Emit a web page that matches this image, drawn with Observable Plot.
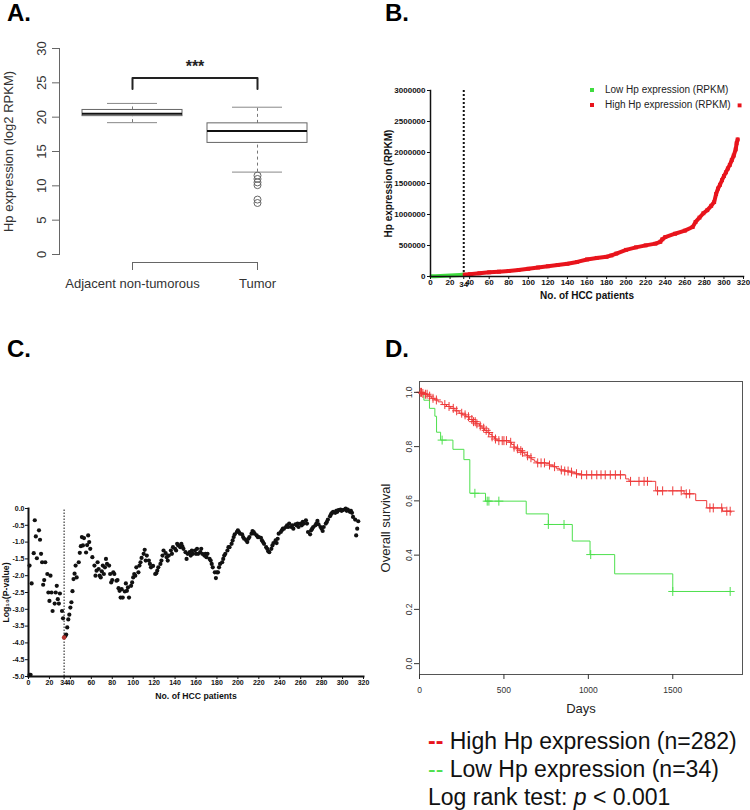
<!DOCTYPE html>
<html><head><meta charset="utf-8">
<script src="https://cdn.jsdelivr.net/npm/d3@7"></script>
<script src="https://cdn.jsdelivr.net/npm/@observablehq/plot@0.6"></script>
<style>
body{margin:0;background:#fff;font-family:"Liberation Sans",Arial,sans-serif;}
#root{position:relative;width:750px;height:810px;overflow:hidden;background:#fff;}
.panel{position:absolute;}
.lbl{position:absolute;font-weight:bold;font-size:24px;line-height:28px;color:#000;}
.leg{position:absolute;white-space:nowrap;}
.sq{position:absolute;width:4px;height:4px;}
</style></head><body><div id="root"></div>
<script>
// ---------- Panel A: box plot ----------
const aGroups = ["Adjacent non-tumorous", "Tumor"];
const aLow = [19.2, 12.0];
const aQ1 = [20.15, 16.25];
const aMedian = [20.5, 18.0];
const aQ3 = [21.05, 19.1];
const aHigh = [22.0, 21.45];
const aTumorOutliers = [11.5, 11.0, 10.5, 10.1, 8.0, 7.5];
const aBracketTop = 25.7, aBracketEnd = 24.1, aStars = "***", aStarsY = 27.3;
const aYTicks = [0, 5, 10, 15, 20, 25, 30];

// ---------- Panel B: Hp expression per patient ----------
const bLowX = [1, 5, 10, 15, 20, 25, 30, 34];
const bLowY = [3000, 6000, 9000, 13000, 17000, 21000, 26000, 31000];
const bHighX = [35, 40, 50, 60, 70, 80, 90, 100, 110, 120, 130, 140, 150, 160, 170, 180, 185, 190, 200, 210, 220, 230, 235, 237, 240, 250, 260, 268, 271, 275, 279, 283, 287, 290, 292, 294, 296, 298, 300, 302, 304, 306, 308, 310, 312, 313, 314, 316];
const bHighY = [30000, 38000, 52000, 67000, 78000, 90000, 105000, 124000, 145000, 165000, 185000, 205000, 235000, 275000, 300000, 318000, 340000, 370000, 430000, 470000, 502000, 530000, 560000, 600000, 636000, 690000, 740000, 798000, 880000, 950000, 1020000, 1070000, 1140000, 1200000, 1330000, 1419000, 1480000, 1553000, 1620000, 1680000, 1742000, 1800000, 1877000, 1950000, 2050000, 2150000, 2211000, 2760000];
const bCutoff = 34;
const bXTicks = [0, 20, 40, 60, 80, 100, 120, 140, 160, 180, 200, 220, 240, 260, 280, 300, 320];
const bYTicks = [0, 500000, 1000000, 1500000, 2000000, 2500000, 3000000];

// ---------- Panel C: log10 P-value per cutoff ----------
const cPatient = [1,1,2,3,5,6,7,8,10,11,12,13,14,15,16,18,19,20,21,22,23,25,26,27,28,29,30,32,33,35,36,37,38,39,40,41,42,43,44,45,46,48,49,50,51,52,53,55,56,57,58,59,61,63,64,65,66,67,68,69,70,71,72,73,74,75,77,78,79,80,81,82,84,85,86,87,88,89,90,92,93,94,95,96,98,99,100,101,102,103,105,106,107,108,110,111,112,113,115,116,117,119,121,122,123,124,126,127,128,129,131,132,133,134,136,137,138,140,141,142,143,145,146,147,148,150,151,152,154,155,156,157,159,160,161,162,164,165,166,168,169,170,171,173,174,175,176,178,179,180,181,182,183,185,186,187,188,190,191,192,194,195,196,197,199,200,201,202,204,205,206,208,209,210,211,213,214,215,216,218,219,220,222,223,224,225,227,228,229,230,232,233,234,236,237,238,239,241,242,243,244,246,247,248,249,251,252,253,255,256,257,258,260,261,262,263,265,266,267,269,270,271,272,274,275,276,277,279,280,281,282,284,285,286,288,289,290,291,293,294,295,296,298,299,300,302,303,304,305,307,308,309,310,312,313,314,315];
const cLogP = [-1.70,-4.95,-4.95,-2.23,-1.33,-0.35,-0.83,-1.48,-0.65,-0.93,-1.35,-1.60,-2.27,-2.13,-1.60,-1.95,-2.50,-2.75,-2.00,-2.50,-3.05,-2.83,-2.50,-2.30,-2.70,-2.83,-2.53,-3.05,-3.27,-3.80,-3.75,-3.54,-3.30,-3.16,-2.95,-2.79,-2.46,-2.10,-1.94,-1.70,-2.05,-1.60,-1.32,-1.12,-0.85,-1.10,-0.88,-1.31,-1.09,-0.80,-1.00,-1.20,-1.45,-1.70,-2.00,-1.85,-1.60,-1.80,-2.00,-2.05,-1.87,-1.70,-1.95,-1.75,-1.50,-1.65,-1.70,-1.95,-2.20,-2.13,-1.90,-1.95,-2.15,-2.13,-2.37,-2.45,-2.65,-2.40,-2.65,-2.47,-2.23,-2.45,-2.35,-2.65,-2.30,-2.20,-2.05,-1.95,-2.00,-1.75,-1.90,-1.70,-1.60,-1.47,-1.35,-1.23,-1.55,-1.40,-1.55,-1.65,-1.75,-1.71,-1.95,-1.93,-1.85,-1.75,-1.65,-1.55,-1.40,-1.25,-1.33,-1.45,-1.55,-1.40,-1.25,-1.35,-1.15,-1.20,-1.25,-1.05,-1.10,-1.15,-1.05,-1.13,-1.20,-1.30,-1.50,-1.35,-1.30,-1.40,-1.25,-1.35,-1.25,-1.35,-1.20,-1.35,-1.30,-1.20,-1.35,-1.40,-1.35,-1.45,-1.35,-1.50,-1.55,-1.65,-1.75,-1.90,-2.07,-1.90,-1.90,-1.75,-1.65,-1.60,-1.50,-1.40,-1.35,-1.25,-1.15,-1.15,-1.05,-0.95,-0.85,-0.77,-0.70,-0.65,-0.70,-0.75,-0.77,-0.85,-0.90,-0.95,-1.00,-0.90,-0.85,-0.75,-0.67,-0.70,-0.75,-0.80,-0.85,-0.85,-0.87,-0.95,-1.00,-1.05,-1.15,-1.20,-1.27,-1.30,-1.20,-1.10,-1.03,-0.95,-1.03,-0.90,-0.75,-0.70,-0.65,-0.60,-0.60,-0.55,-0.50,-0.55,-0.45,-0.55,-0.50,-0.60,-0.47,-0.50,-0.45,-0.55,-0.45,-0.50,-0.40,-0.45,-0.35,-0.45,-0.70,-0.77,-0.65,-0.60,-0.55,-0.50,-0.45,-0.37,-0.47,-0.55,-0.60,-0.67,-0.55,-0.45,-0.40,-0.33,-0.23,-0.17,-0.13,-0.10,-0.13,-0.07,-0.10,-0.05,-0.03,-0.07,-0.05,-0.03,0.00,-0.07,-0.03,-0.10,-0.07,-0.13,-0.25,-0.33,-0.80,-0.60,-0.38];
const cBest = {patient: 34, logP: -3.84};
const cXTicks = [0, 20, 34, 40, 60, 80, 100, 120, 140, 160, 180, 200, 220, 240, 260, 280, 300, 320];
const cYTicks = [-5, -4.5, -4, -3.5, -3, -2.5, -2, -1.5, -1, -0.5, 0];

// ---------- Panel D: Kaplan-Meier ----------
const dLowTime = [0, 26, 59, 91, 101, 125, 198, 263, 298, 391, 632, 763, 905, 1010, 1156, 1500, 1840];
const dLowSurv = [1, 0.971, 0.941, 0.912, 0.853, 0.824, 0.790, 0.752, 0.628, 0.599, 0.552, 0.513, 0.452, 0.402, 0.331, 0.266, 0.266];
const dLowCensor = [134, 328, 401, 411, 470, 763, 856, 1014, 1500, 1840];
const dHighTime = [0, 15, 30, 50, 70, 90, 110, 135, 160, 185, 210, 235, 255, 275, 295, 315, 335, 355, 370, 385, 400, 415, 430, 445, 460, 530, 545, 560, 575, 590, 605, 620, 635, 650, 665, 680, 695, 750, 770, 790, 810, 830, 860, 890, 920, 945, 1221, 1241, 1399, 1567, 1636, 1701, 1794, 1845];
const dHighSurv = [1, 0.996, 0.993, 0.986, 0.978, 0.972, 0.965, 0.955, 0.948, 0.941, 0.932, 0.923, 0.917, 0.910, 0.900, 0.892, 0.884, 0.876, 0.868, 0.860, 0.852, 0.845, 0.836, 0.828, 0.822, 0.816, 0.808, 0.798, 0.792, 0.785, 0.779, 0.772, 0.766, 0.759, 0.752, 0.746, 0.740, 0.738, 0.732, 0.726, 0.720, 0.714, 0.710, 0.706, 0.700, 0.696, 0.681, 0.672, 0.637, 0.626, 0.601, 0.574, 0.562, 0.558];
const dHighCensor = [5, 12, 20, 35, 45, 60, 80, 100, 150, 175, 200, 220, 250, 270, 290, 310, 320, 330, 340, 360, 380, 395, 410, 430, 450, 470, 490, 500, 515, 540, 560, 580, 600, 610, 640, 660, 700, 720, 740, 770, 800, 840, 860, 880, 900, 930, 960, 990, 1020, 1050, 1075, 1100, 1130, 1160, 1190, 1250, 1300, 1330, 1350, 1410, 1440, 1500, 1550, 1580, 1600, 1720, 1740, 1790, 1820, 1840];
const dXTicks = [0, 500, 1000, 1500];
const dYTicks = [0, 0.2, 0.4, 0.6, 0.8, 1.0];
const dLegend = ["High Hp expression (n=282)", "Low Hp expression (n=34)"];

const RED = "#e8141c", GREEN = "#3fdc3f", KM_RED = "#ee3a3a", KM_GREEN = "#4ee04e";
const FONT = "'Liberation Sans', Arial, sans-serif";
const root = document.getElementById("root");
function place(el, left, top) {
  const d = document.createElement("div");
  d.className = "panel"; d.style.left = left + "px"; d.style.top = top + "px";
  d.appendChild(el); root.appendChild(d);
}
function label(txt, left, top) {
  const d = document.createElement("div"); d.className = "lbl";
  d.style.left = left + "px"; d.style.top = top + "px"; d.textContent = txt; root.appendChild(d);
}
const yTitle = (t, dx, fontSize, extra = {}) => Plot.text([t], {frameAnchor: "left", dx, rotate: -90, textAnchor: "middle", lineAnchor: "middle", fontSize, ...extra});
const xTitle = (t, dy, fontSize, extra = {}) => Plot.text([t], {frameAnchor: "bottom", dy, textAnchor: "middle", lineAnchor: "middle", fontSize, ...extra});

// ----- A -----
const boxData = aGroups.map((g, i) => ({pos: i + 1, lo: aLow[i], q1: aQ1[i], med: aMedian[i], q3: aQ3[i], hi: aHigh[i]}));
const outl = aTumorOutliers.map(v => ({pos: 2, v}));
const bracket = [{x: 1, y: aBracketEnd}, {x: 1, y: aBracketTop}, {x: 2, y: aBracketTop}, {x: 2, y: aBracketEnd}];
const plotA = Plot.plot({
  width: 330, height: 300, marginLeft: 59, marginRight: 0, marginTop: 48, marginBottom: 46,
  x: {domain: [0.416, 2.584], label: null},
  y: {domain: [0, 30], label: null},
  style: {fontFamily: FONT, background: "transparent", color: "#333"},
  marks: [
    Plot.ruleX(boxData, {x: "pos", y1: "q3", y2: "hi", stroke: "#777", strokeDasharray: "3,3"}),
    Plot.ruleX(boxData, {x: "pos", y1: "lo", y2: "q1", stroke: "#777", strokeDasharray: "3,3"}),
    Plot.ruleY(boxData, {y: "hi", x1: d => d.pos - 0.2, x2: d => d.pos + 0.2, stroke: "#888"}),
    Plot.ruleY(boxData, {y: "lo", x1: d => d.pos - 0.2, x2: d => d.pos + 0.2, stroke: "#888"}),
    Plot.rect(boxData, {x1: d => d.pos - 0.4, x2: d => d.pos + 0.4, y1: "q1", y2: "q3", fill: "white", stroke: "#666"}),
    Plot.ruleY(boxData, {y: "med", x1: d => d.pos - 0.4, x2: d => d.pos + 0.4, stroke: "#111", strokeWidth: 2}),
    Plot.dot(outl, {x: "pos", y: "v", r: 3.5, stroke: "#666", strokeWidth: 1}),
    Plot.line(bracket, {x: "x", y: "y", stroke: "#222", strokeWidth: 2}),
    Plot.text([aStars], {x: 1.5, y: aStarsY, fontSize: 16, fontWeight: "bold", fill: "#222"}),
    Plot.frame({anchor: "left", stroke: "#666"}),
    Plot.axisY({ticks: aYTicks, tickSize: 7, tickRotate: -90, tickPadding: 7, fontSize: 13, stroke: "#666", label: null}),
    Plot.axisX({ticks: [1, 2], tickFormat: i => aGroups[i - 1], tickSize: 8, dy: 8, tickPadding: 8, fontSize: 13, stroke: "#666", label: null}),
    Plot.ruleY([0], {x1: 1, x2: 2, dy: 8, stroke: "#666"}),
    yTitle("Hp expression (log2 RPKM)", -51, 13, {fill: "#333"})
  ]
});
place(plotA, 0, 0);

// ----- B -----
const bLow = bLowX.map((x, i) => ({x, y: bLowY[i]}));
const bHigh = bHighX.map((x, i) => ({x, y: bHighY[i]}));
const plotB = Plot.plot({
  width: 375, height: 310, marginLeft: 55, marginRight: 7, marginTop: 90, marginBottom: 34,
  x: {domain: [0, 320], label: null},
  y: {domain: [0, 3000000], label: null},
  style: {fontFamily: FONT, background: "transparent", color: "#111"},
  marks: [
    Plot.ruleX([bCutoff], {y1: 0, y2: 3000000, stroke: "#111", strokeWidth: 2, strokeDasharray: "2,2"}),
    Plot.line(bLow, {x: "x", y: "y", stroke: GREEN, strokeWidth: 4}),
    Plot.line(bHigh.slice(0, -1), {x: "x", y: "y", stroke: RED, strokeWidth: 4}),
    Plot.dot(bHigh, {x: "x", y: "y", symbol: "square", r: 2.2, fill: RED}),
    Plot.frame({anchor: "left", strokeWidth: 1.5}),
    Plot.frame({anchor: "bottom", strokeWidth: 1.5}),
    Plot.axisY({ticks: bYTicks, tickFormat: d => String(d), tickSize: 3, tickPadding: 2, fontSize: 8, fontWeight: "bold", label: null}),
    Plot.axisX({ticks: bXTicks, tickSize: 3, tickPadding: 0, fontSize: 8, fontWeight: "bold", label: null}),
    Plot.axisX({ticks: [bCutoff], tickSize: 3, tickPadding: 2, fontSize: 8, fontWeight: "bold", label: null}),
    xTitle("No. of HCC patients", 19, 10, {fontWeight: "bold"}),
    yTitle("Hp expression (RPKM)", -42, 10, {fontWeight: "bold"})
  ]
});
place(plotB, 375, 0);
// legend B
[["Low Hp expression (RPKM)", GREEN, 90], ["High Hp expression (RPKM)", RED, 105]].forEach(([t, c, y]) => {
  const s = document.createElement("div"); s.className = "sq";
  s.style.left = "590px"; s.style.top = (y - 2) + "px"; s.style.background = c; root.appendChild(s);
  const l = document.createElement("div"); l.className = "leg";
  l.style.left = "605px"; l.style.top = (y - 7) + "px"; l.style.fontSize = "10px"; l.style.lineHeight = "14px"; l.style.color = "#222";
  l.textContent = t; root.appendChild(l);
});

// ----- C -----
const cData = cPatient.map((p, i) => ({p, v: cLogP[i]}));
const plotC = Plot.plot({
  width: 375, height: 330, marginLeft: 28, marginRight: 12, marginTop: 128, marginBottom: 34,
  x: {domain: [0, 320], label: null},
  y: {domain: [-5, 0], label: null},
  style: {fontFamily: FONT, background: "transparent", color: "#111"},
  marks: [
    Plot.ruleX([cBest.patient], {y1: -5, y2: 0, stroke: "#111", strokeWidth: 1, strokeDasharray: "1.5,1.5"}),
    Plot.dot(cData, {x: "p", y: "v", r: 2.1, fill: "#111"}),
    Plot.dot([cBest], {x: "patient", y: "logP", r: 2.3, fill: "#b8352f"}),
    Plot.frame({anchor: "left", strokeWidth: 2}),
    Plot.frame({anchor: "bottom", strokeWidth: 2}),
    Plot.axisY({ticks: cYTicks, tickFormat: d => d.toFixed(1), tickSize: 3, tickPadding: 1, fontSize: 7, fontWeight: "bold", label: null}),
    Plot.axisX({ticks: cXTicks, tickSize: 3, tickPadding: 1, fontSize: 7, fontWeight: "bold", label: null}),
    xTitle("No. of HCC patients", 20, 8.7, {fontWeight: "bold"}),
    yTitle("Log\u2081\u2080(P-value)", -22, 8.7, {fontWeight: "bold"})
  ]
});
place(plotC, 0, 380);

// ----- D -----
const dLow = dLowTime.map((t, i) => ({t, s: dLowSurv[i]}));
const dHigh = dHighTime.map((t, i) => ({t, s: dHighSurv[i]}));
const survAt = (times, surv, t) => { let s = surv[0]; for (let i = 0; i < times.length; i++) if (times[i] <= t) s = surv[i]; return s; };
const dLowC = dLowCensor.map(t => ({t, s: survAt(dLowTime, dLowSurv, t)}));
const dHighC = dHighCensor.map(t => ({t, s: survAt(dHighTime, dHighSurv, t)}));
const plotD = Plot.plot({
  width: 375, height: 345, marginLeft: 44, marginRight: 8, marginTop: 6, marginBottom: 46,
  x: {domain: [0, 1913], label: null},
  y: {domain: [-0.04, 1.04], label: null},
  style: {fontFamily: FONT, background: "transparent", color: "#333"},
  marks: [
    Plot.frame({stroke: "#555"}),
    Plot.line(dLow, {x: "t", y: "s", curve: "step-after", stroke: KM_GREEN, strokeWidth: 1}),
    Plot.line(dHigh, {x: "t", y: "s", curve: "step-after", stroke: KM_RED, strokeWidth: 1}),
    Plot.dot(dLowC, {x: "t", y: "s", symbol: "plus", r: 3, stroke: KM_GREEN, strokeWidth: 1}),
    Plot.dot(dHighC, {x: "t", y: "s", symbol: "plus", r: 3, stroke: KM_RED, strokeWidth: 1}),
    Plot.axisY({ticks: dYTicks, tickFormat: d => d.toFixed(1), tickRotate: -90, tickSize: 5, tickPadding: 3, fontSize: 8.5, label: null}),
    Plot.axisX({ticks: dXTicks, tickFormat: d => String(d), tickSize: 5, tickPadding: 7, fontSize: 8.5, label: null}),
    xTitle("Days", 34, 13, {fill: "#222"}),
    yTitle("Overall survival", -34, 13, {fill: "#222"})
  ]
});
place(plotD, 375, 375);

// legend D
const lg = document.createElement("div"); lg.className = "leg";
lg.style.left = "428px"; lg.style.top = "727px"; lg.style.fontSize = "23px"; lg.style.lineHeight = "28px"; lg.style.color = "#111";
lg.innerHTML = `<div><span style="color:${RED};font-weight:bold">--</span> ${dLegend[0]}</div>` +
  `<div><span style="color:${KM_GREEN}">--</span> ${dLegend[1]}</div>` +
  `<div>Log rank test: <i>p</i> &lt; 0.001</div>`;
root.appendChild(lg);

// panel letters
label("A.", 7, -1); label("B.", 385, -1); label("C.", 7, 335); label("D.", 385, 335);
</script>
</body></html>
